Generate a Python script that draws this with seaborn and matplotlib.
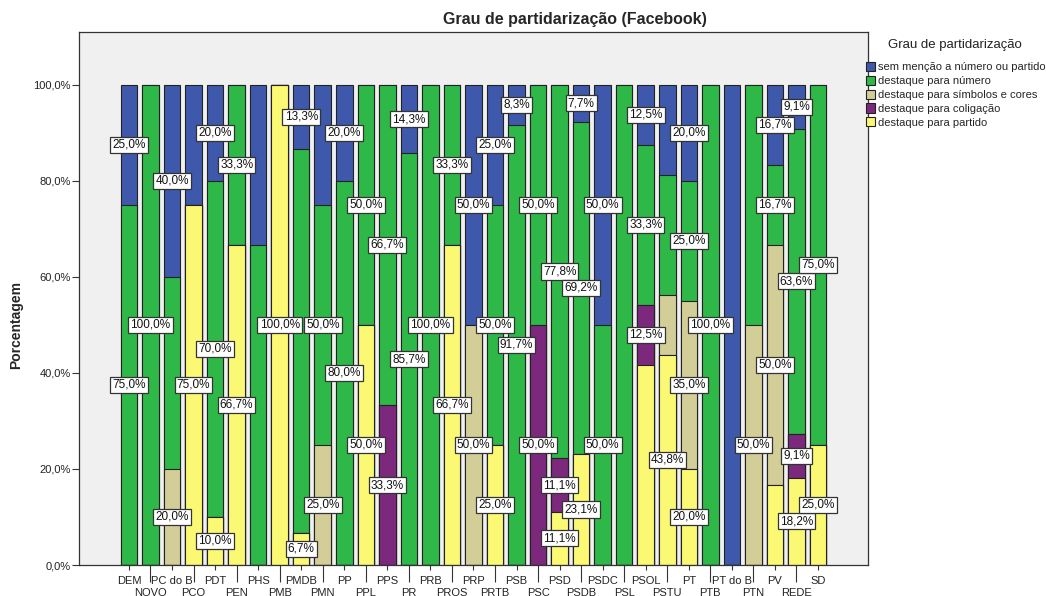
import numpy as np
import pandas as pd
import seaborn as sns
import matplotlib.pyplot as plt
from matplotlib.patches import Patch

parties = ['DEM', 'NOVO', 'PC do B', 'PCO', 'PDT', 'PEN', 'PHS', 'PMB', 'PMDB', 'PMN',
           'PP', 'PPL', 'PPS', 'PR', 'PRB', 'PROS', 'PRP', 'PRTB', 'PSB', 'PSC',
           'PSD', 'PSDB', 'PSDC', 'PSL', 'PSOL', 'PSTU', 'PT', 'PTB', 'PT do B', 'PTN',
           'PV', 'REDE', 'SD']

# percentages per party (stack order from top to bottom)
sem_mencao = [25, 0, 40, 25, 20, 0, 33.3, 0, 13.3, 25, 20, 0, 0, 14.3, 0, 0, 50, 25, 8.3, 0,
              0, 7.7, 50, 0, 12.5, 18.8, 20, 0, 100, 0, 16.7, 9.1, 0]
numero = [75, 100, 40, 0, 70, 33.3, 66.7, 0, 80, 50, 80, 50, 66.7, 85.7, 100, 33.3, 0, 50, 91.7, 50,
          77.8, 69.2, 50, 100, 33.3, 25, 25, 100, 0, 50, 16.7, 63.6, 75]
simbolos = [0, 0, 20, 0, 0, 0, 0, 0, 0, 25, 0, 0, 0, 0, 0, 0, 50, 0, 0, 0,
            0, 0, 0, 0, 0, 12.5, 35, 0, 0, 50, 50, 0, 0]
coligacao = [0, 0, 0, 0, 0, 0, 0, 0, 0, 0, 0, 0, 33.3, 0, 0, 0, 0, 0, 0, 50,
             11.1, 0, 0, 0, 12.5, 0, 0, 0, 0, 0, 0, 9.1, 0]
partido = [0, 0, 0, 75, 10, 66.7, 0, 100, 6.7, 0, 0, 50, 0, 0, 0, 66.7, 0, 25, 0, 0,
           11.1, 23.1, 0, 0, 41.7, 43.8, 20, 0, 0, 0, 16.7, 18.2, 25]

# labels SPSS dropped because they collided with neighbours
hidden_labels = [('PC do B', 'numero'), ('PCO', 'sem'), ('PHS', 'sem'), ('PHS', 'numero'),
                 ('PMDB', 'numero'), ('PMN', 'sem'), ('PSL', 'numero'), ('PSOL', 'partido'),
                 ('PSTU', 'sem'), ('PSTU', 'numero'), ('PSTU', 'simbolos'),
                 ('PT do B', 'sem'), ('PTN', 'numero'), ('PV', 'partido')]

legend_labels = ['sem menção a número ou partido', 'destaque para número',
                 'destaque para símbolos e cores', 'destaque para coligação',
                 'destaque para partido']
keys = ['sem', 'numero', 'simbolos', 'coligacao', 'partido']
colors = ['#3E58AC', '#2EB848', '#D3CE97', '#7C287D', '#FBF873']

sns.set_theme(style='white')
plt.rcParams['font.family'] = ['Liberation Sans', 'DejaVu Sans']

df = pd.DataFrame({'party': parties, 'sem': sem_mencao, 'numero': numero,
                   'simbolos': simbolos, 'coligacao': coligacao, 'partido': partido})

# cumulative heights (rescaled so rounded rows close at 100), bottom segment is 'partido'
scale = 100 / df[keys].sum(axis=1).to_numpy()
below = {}
running = np.zeros(len(df))
for k in keys[::-1]:
    below[k] = running.copy()
    running = running + df[k].to_numpy() * scale
    df['cum_' + k] = running

fig = plt.figure(figsize=(10.46, 5.96), dpi=100)
ax = fig.add_axes([0.0755, 0.052, 0.7543, 0.8943])
ax.set_facecolor('#F0F0F0')

for k, c in zip(keys, colors):
    sns.barplot(data=df, x='party', y='cum_' + k, order=parties, color=c, saturation=1,
                width=0.77, edgecolor='#222222', linewidth=0.8, errorbar=None, ax=ax)

for i, p in enumerate(parties):
    for k in keys:
        v = df.loc[i, k]
        if v <= 0 or (p, k) in hidden_labels:
            continue
        ax.text(i, below[k][i] + v * scale[i] / 2, f'{v:.1f}%'.replace('.', ','),
                ha='center', va='center', fontsize=8.5, color='#111111',
                bbox=dict(boxstyle='square,pad=0.18', fc='white', ec='#333333', lw=0.9))

ax.set_xlim(-2.32, 34.32)
ax.set_ylim(0, 111)
ax.set_yticks(range(0, 101, 20), labels=[f'{t},0%' for t in range(0, 101, 20)])
even = list(range(0, len(parties), 2))
odd = list(range(1, len(parties), 2))
ax.set_xticks(even, labels=[parties[i] for i in even])
ax.set_xticks(odd, labels=[parties[i] for i in odd], minor=True)
ax.tick_params(axis='x', which='major', length=3.6, width=0.8, pad=4, labelsize=8,
               color='#333333', labelcolor='#222222', bottom=True)
ax.tick_params(axis='x', which='minor', length=12, width=0.8, pad=4.5, labelsize=8,
               color='#333333', labelcolor='#222222', bottom=True)
ax.tick_params(axis='y', length=5, width=0.8, pad=1, labelsize=8, color='#333333',
               labelcolor='#222222', left=True)
ax.set_xlabel('')
ax.set_ylabel('Porcentagem', fontsize=10, fontweight='bold')
ax.yaxis.set_label_coords(-0.071, 0.45)
for s in ax.spines.values():
    s.set_color('#333333')
    s.set_linewidth(0.9)

fig.text(0.55, 0.968, 'Grau de partidarização (Facebook)', ha='center', va='center',
         fontsize=11.5, fontweight='bold')

fig.text(955 / 1046, 1 - 45 / 596, 'Grau de partidarização', ha='center', va='center',
         fontsize=9.5, color='#222222')
handles = [Patch(facecolor=c, edgecolor='#222222', linewidth=0.8) for c in colors]
fig.legend(handles, legend_labels, loc='upper left',
           bbox_to_anchor=(866 / 1046, 1 - 62 / 596), frameon=False, fontsize=8,
           handlelength=0.85, handleheight=0.9, handletextpad=0.25, labelspacing=0.3,
           borderaxespad=0, borderpad=0)

fig.savefig('out.png', dpi=100)
